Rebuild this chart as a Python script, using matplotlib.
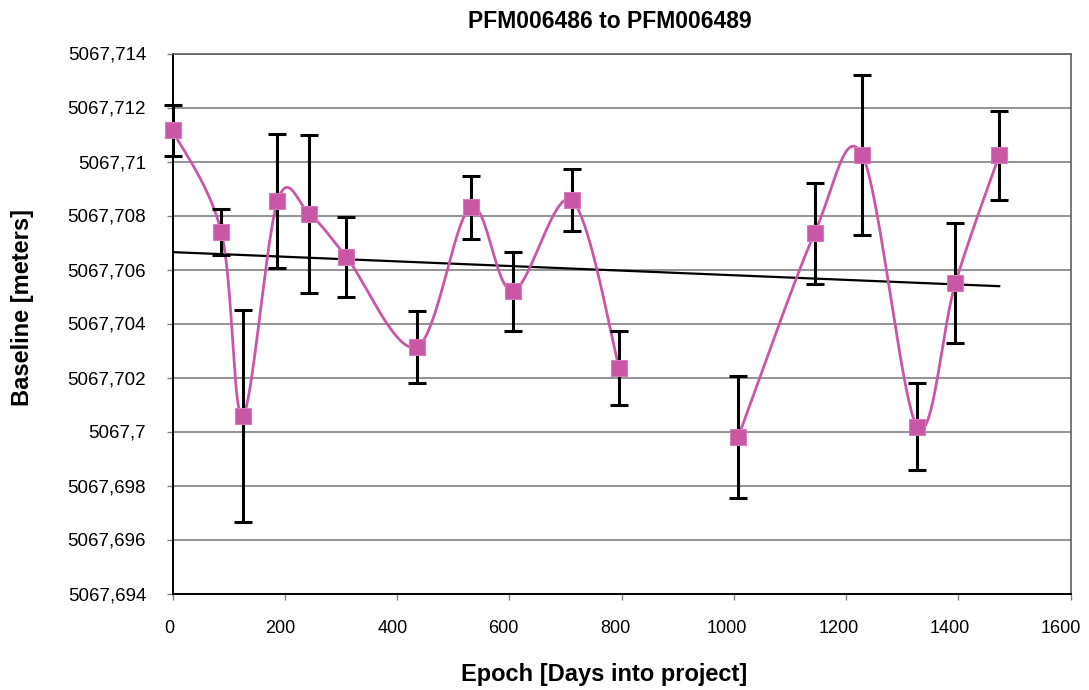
import matplotlib
matplotlib.use("Agg")
import matplotlib.pyplot as plt
import matplotlib.transforms as mtransforms
import numpy as np
from matplotlib.ticker import FuncFormatter, MultipleLocator

plt.rcParams["font.family"] = ["Liberation Sans", "DejaVu Sans"]

# epoch [days into project], baseline [m], error bar half-width [m]
epoch = [0, 87, 125, 187, 244, 310, 435, 531, 606, 711, 796, 1008, 1144, 1229, 1327, 1395, 1473]
baseline = [5067.71115, 5067.70738, 5067.70058, 5067.70853, 5067.70805, 5067.70646,
            5067.70313, 5067.70831, 5067.70520, 5067.70857, 5067.70235, 5067.69980,
            5067.70735, 5067.71024, 5067.70017, 5067.70550, 5067.71023]
err = [0.00096, 0.00085, 0.00392, 0.00248, 0.00292, 0.00148, 0.00134, 0.00117, 0.00146,
       0.00115, 0.00138, 0.00227, 0.00187, 0.00295, 0.00161, 0.00223, 0.00165]
# the series has a blank cell between 796 and 1008, so the line breaks there
segments = [(0, 11), (11, 17)]

title = "PFM006486 to PFM006489"
xlabel = "Epoch [Days into project]"
ylabel = "Baseline [meters]"

PINK = "#c957a6"


def smooth_line(x, y, n=40):
    """Excel-like smoothed line: Bezier pieces with 1/6 Catmull-Rom tangents."""
    x = np.asarray(x, float)
    y = np.asarray(y, float)
    px = np.concatenate([[x[0]], x, [x[-1]]])
    py = np.concatenate([[y[0]], y, [y[-1]]])
    xs, ys = [], []
    t = np.linspace(0, 1, n)
    for i in range(1, len(px) - 2):
        p0 = np.array([px[i], py[i]])
        p3 = np.array([px[i + 1], py[i + 1]])
        p1 = p0 + (p3 - np.array([px[i - 1], py[i - 1]])) / 6
        p2 = p3 - (np.array([px[i + 2], py[i + 2]]) - p0) / 6
        b = ((1 - t) ** 3)[:, None] * p0 + (3 * (1 - t) ** 2 * t)[:, None] * p1 \
            + (3 * (1 - t) * t ** 2)[:, None] * p2 + (t ** 3)[:, None] * p3
        xs.append(b[:, 0])
        ys.append(b[:, 1])
    return np.concatenate(xs), np.concatenate(ys)


def comma_fmt(v, pos):
    s = f"{v:.3f}".rstrip("0").rstrip(".")
    return s.replace(".", ",")


fig = plt.figure(figsize=(10.89, 6.90), dpi=100)
ax = fig.add_axes([172.5 / 1089, 1 - 593.5 / 690, (1070.5 - 172.5) / 1089, (593.5 - 53.5) / 690])

ax.set_xlim(0, 1600)
ax.set_ylim(5067.694, 5067.714)
ax.xaxis.set_major_locator(MultipleLocator(200))
ax.yaxis.set_major_locator(MultipleLocator(0.002))
ax.yaxis.set_major_formatter(FuncFormatter(comma_fmt))
ax.grid(axis="y", color="#808080", linewidth=1.2, zorder=0)
ax.set_axisbelow(True)

for side in ("top", "right"):
    ax.spines[side].set_color("#606060")
    ax.spines[side].set_linewidth(1.2)
for side in ("left", "bottom"):
    ax.spines[side].set_color("black")
    ax.spines[side].set_linewidth(1.4)
ax.tick_params(axis="both", direction="out", length=4, width=1, color="#808080")
ax.tick_params(axis="y", pad=15, labelsize=13.5)
ax.tick_params(axis="x", pad=15, labelsize=13)

# linear trend line
coef = np.polyfit(epoch, baseline, 1)
tx = np.array([0, max(epoch)])
ax.plot(tx, np.polyval(coef, tx), color="black", linewidth=1.6, zorder=3)

for a, b in segments:
    sx, sy = smooth_line(epoch[a:b], baseline[a:b])
    ax.plot(sx, sy, color=PINK, linewidth=2, zorder=4, clip_on=False)

ax.errorbar(epoch, baseline, yerr=err, fmt="none", ecolor="black", elinewidth=2.2,
            capsize=6.5, capthick=2.2, zorder=5, clip_on=False)
ax.plot(epoch, baseline, linestyle="none", marker="s", markersize=11,
        markerfacecolor=PINK, markeredgecolor="#d67cbb", markeredgewidth=0.8,
        zorder=6, clip_on=False)

# Excel spaces the x labels a touch tighter than the ticks
fig.canvas.draw()
for i, lab in enumerate(ax.get_xticklabels()):
    shift = mtransforms.ScaledTranslation(-(2.5 + 0.75 * i) / 100, 0, fig.dpi_scale_trans)
    lab.set_transform(lab.get_transform() + shift)

fig.text(610 / 1089, 1 - 21 / 690, title, fontsize=16.5, fontweight="bold",
         ha="center", va="center")
fig.text(604 / 1089, 1 - 674 / 690, xlabel, fontsize=17, fontweight="bold",
         ha="center", va="center")
fig.text(22 / 1089, 1 - 307 / 690, ylabel, fontsize=17, fontweight="bold",
         ha="center", va="center", rotation=90)

fig.savefig("out.png", dpi=100)
